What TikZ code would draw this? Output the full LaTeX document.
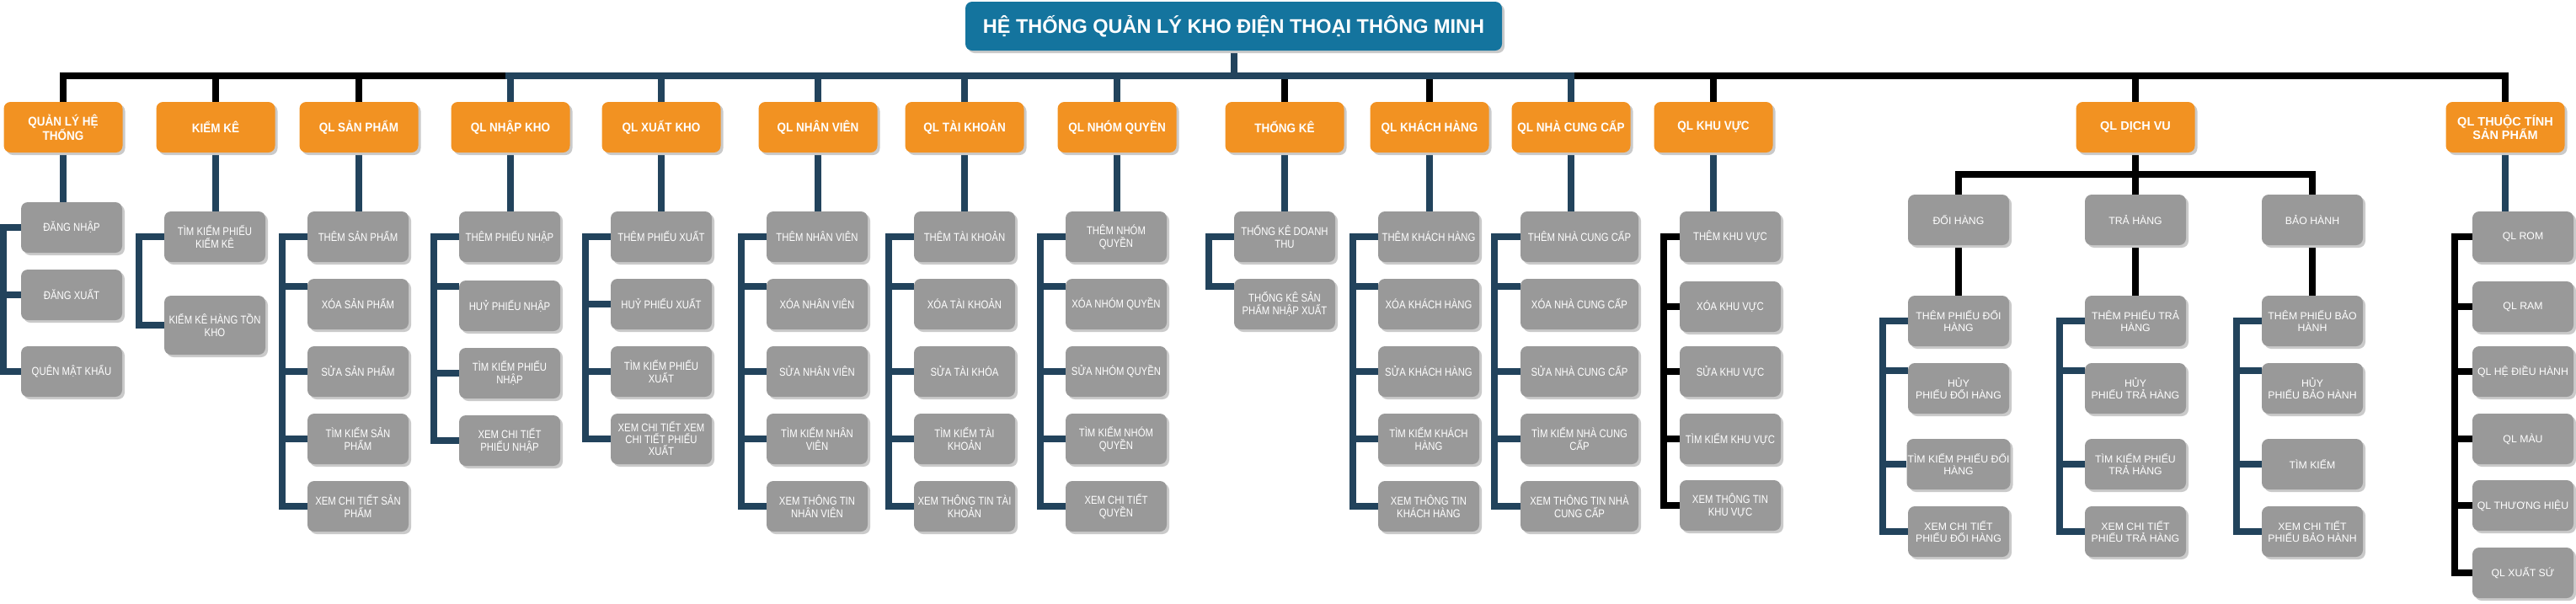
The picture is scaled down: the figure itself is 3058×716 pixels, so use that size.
\documentclass[tikz,border=0pt]{standalone}
\usepackage{fontspec}
\setmainfont{Liberation Sans}
\newfontfamily\narrowf[FakeStretch=0.84]{Liberation Sans}
\newfontfamily\narrowb[FakeStretch=0.9]{Liberation Sans}
\usetikzlibrary{shadows,calc}
\definecolor{orangec}{HTML}{F29222}
\definecolor{navyc}{HTML}{22435C}
\definecolor{grayc}{HTML}{999999}
\definecolor{rootc}{HTML}{14749E}
\definecolor{shadc}{HTML}{CACACA}
\pgfdeclarelayer{bg}
\pgfsetlayers{bg,main}
\tikzset{
  boxshadow/.style={general shadow={fill=shadc, shadow xshift=3pt, shadow yshift=-3pt}},
  rootbox/.style={fill=rootc, rounded corners=8pt, minimum width=637pt, minimum height=58pt,
    text=white, inner sep=0pt, font=\bfseries\fontsize{23.5}{26}\selectfont, boxshadow},
  cat/.style={fill=orangec, rounded corners=8pt, minimum width=141pt, minimum height=60pt,
    text=white, align=center, inner sep=1pt, font=\narrowb\bfseries\fontsize{15}{17}\selectfont, boxshadow},
  catw/.style={cat, font=\bfseries\fontsize{14.5}{16}\selectfont},
  leaf/.style={fill=grayc, rounded corners=8pt, minimum width=120pt, minimum height=60pt,
    text=white, align=center, inner sep=1pt, font=\narrowf\fontsize{13.5}{15}\selectfont, boxshadow},
  leafw/.style={leaf, font=\fontsize{12.3}{14}\selectfont},
  nline/.style={draw=navyc, line width=8pt},
  bline/.style={draw=black, line width=8pt},
}
\begin{document}
\begin{tikzpicture}[x=1pt,y=-1pt]
\useasboundingbox (0,0) rectangle (3058,716);

% root
\node[rootbox] (root) at (1464.5,31) {HỆ THỐNG QUẢN LÝ KHO ĐIỆN THOẠI THÔNG MINH};

% categories
\node[cat] (k1) at (75,151) {QUẢN LÝ HỆ\\THỐNG};
\node[cat] (k2) at (256,151) {KIỂM KÊ};
\node[cat] (k3) at (426,151) {QL SẢN PHẨM};
\node[cat] (k4) at (606,151) {QL NHẬP KHO};
\node[cat] (k5) at (785,151) {QL XUẤT KHO};
\node[cat] (k6) at (971,151) {QL NHÂN VIÊN};
\node[cat] (k7) at (1145,151) {QL TÀI KHOẢN};
\node[cat] (k8) at (1326,151) {QL NHÓM QUYỀN};
\node[cat] (k9) at (1525,151) {THỐNG KÊ};
\node[cat] (k10) at (1697,151) {QL KHÁCH HÀNG};
\node[cat] (k11) at (1865,151) {QL NHÀ CUNG CẤP};
\node[cat] (k12) at (2034,151) {QL KHU VỰC};
\node[catw] (k13) at (2535,151) {QL DỊCH VU};
\node[catw] (k14) at (2974,151) {QL THUỘC TÍNH\\SẢN PHẨM};

% column 1
\node[leaf] (a1) at (85,270) {ĐĂNG NHẬP};
\node[leaf] (a2) at (85,350) {ĐĂNG XUẤT};
\node[leaf] (a3) at (85,441) {QUÊN MẬT KHẨU};
% column 2
\node[leaf] (b1) at (255,281) {TÌM KIẾM PHIẾU\\KIỂM KÊ};
\node[leaf, minimum height=70pt] (b2) at (255,386) {KIỂM KÊ HÀNG TỒN\\KHO};
% column 3
\node[leaf] (c1) at (425,281) {THÊM SẢN PHẨM};
\node[leaf] (c2) at (425,361) {XÓA SẢN PHẨM};
\node[leaf] (c3) at (425,441) {SỬA SẢN PHẨM};
\node[leaf] (c4) at (425,521) {TÌM KIẾM SẢN\\PHẨM};
\node[leaf] (c5) at (425,601) {XEM CHI TIẾT SẢN\\PHẨM};
% column 4
\node[leaf] (d1) at (605,281) {THÊM PHIẾU NHẬP};
\node[leaf] (d2) at (605,363) {HUỶ PHIẾU NHẬP};
\node[leaf] (d3) at (605,443) {TÌM KIẾM PHIẾU\\NHẬP};
\node[leaf] (d4) at (605,523) {XEM CHI TIẾT\\PHIẾU NHẬP};
% column 5
\node[leaf] (e1) at (785,281) {THÊM PHIẾU XUẤT};
\node[leaf] (e2) at (785,361) {HUỶ PHIẾU XUẤT};
\node[leaf] (e3) at (785,441) {TÌM KIẾM PHIẾU\\XUẤT};
\node[leaf, font=\narrowf\fontsize{13.5}{14}\selectfont] (e4) at (785,521) {XEM CHI TIẾT XEM\\CHI TIẾT PHIẾU\\XUẤT};
% column 6
\node[leaf] (f1) at (970,281) {THÊM NHÂN VIÊN};
\node[leaf] (f2) at (970,361) {XÓA NHÂN VIÊN};
\node[leaf] (f3) at (970,441) {SỬA NHÂN VIÊN};
\node[leaf] (f4) at (970,521) {TÌM KIẾM NHÂN\\VIÊN};
\node[leaf] (f5) at (970,601) {XEM THÔNG TIN\\NHÂN VIÊN};
% column 7
\node[leaf] (g1) at (1145,281) {THÊM TÀI KHOẢN};
\node[leaf] (g2) at (1145,361) {XÓA TÀI KHOẢN};
\node[leaf] (g3) at (1145,441) {SỬA TÀI KHÓA};
\node[leaf] (g4) at (1145,521) {TÌM KIẾM TÀI\\KHOẢN};
\node[leaf] (g5) at (1145,601) {XEM THÔNG TIN TÀI\\KHOẢN};
% column 8
\node[leaf] (h1) at (1325,281) {THÊM NHÓM\\QUYỀN};
\node[leaf] (h2) at (1325,361) {XÓA NHÓM QUYỀN};
\node[leaf] (h3) at (1325,441) {SỬA NHÓM QUYỀN};
\node[leaf] (h4) at (1325,521) {TÌM KIẾM NHÓM\\QUYỀN};
\node[leaf] (h5) at (1325,601) {XEM CHI TIẾT\\QUYỀN};
% column 9
\node[leaf] (i1) at (1525,281) {THỐNG KÊ DOANH\\THU};
\node[leaf] (i2) at (1525,361) {THỐNG KÊ SẢN\\PHẨM NHẬP XUẤT};
% column 10
\node[leaf] (j1) at (1696,281) {THÊM KHÁCH HÀNG};
\node[leaf] (j2) at (1696,361) {XÓA KHÁCH HÀNG};
\node[leaf] (j3) at (1696,441) {SỬA KHÁCH HÀNG};
\node[leaf] (j4) at (1696,521) {TÌM KIẾM KHÁCH\\HÀNG};
\node[leaf] (j5) at (1696,601) {XEM THÔNG TIN\\KHÁCH HÀNG};
% column 11
\node[leaf, minimum width=140pt] (m1) at (1875,281) {THÊM NHÀ CUNG CẤP};
\node[leaf, minimum width=140pt] (m2) at (1875,361) {XÓA NHÀ CUNG CẤP};
\node[leaf, minimum width=140pt] (m3) at (1875,441) {SỬA NHÀ CUNG CẤP};
\node[leaf, minimum width=140pt] (m4) at (1875,521) {TÌM KIẾM NHÀ CUNG\\CẤP};
\node[leaf, minimum width=140pt] (m5) at (1875,601) {XEM THÔNG TIN NHÀ\\CUNG CẤP};
% column 12
\node[leaf] (n1) at (2054,281) {THÊM KHU VỰC};
\node[leaf] (n2) at (2054,364) {XÓA KHU VỰC};
\node[leaf] (n3) at (2054,441) {SỬA KHU VỰC};
\node[leaf] (n4) at (2054,521) {TÌM KIẾM KHU VỰC};
\node[leaf] (n5) at (2054,600) {XEM THÔNG TIN\\KHU VỰC};
% column 13
\node[leafw] (p1) at (2325,261) {ĐỔI HÀNG};
\node[leafw] (p2) at (2535,261) {TRẢ HÀNG};
\node[leafw] (p3) at (2745,261) {BẢO HÀNH};
\node[leafw] (q1) at (2325,381) {THÊM PHIẾU ĐỔI\\HÀNG};
\node[leafw] (q2) at (2325,461) {HỦY\\PHIẾU ĐỔI HÀNG};
\node[leafw] (q3) at (2325,551) {TÌM KIẾM PHIẾU ĐỔI\\HÀNG};
\node[leafw] (q4) at (2325,631) {XEM CHI TIẾT\\PHIẾU ĐỔI HÀNG};
\node[leafw] (r1) at (2535,381) {THÊM PHIẾU TRẢ\\HÀNG};
\node[leafw] (r2) at (2535,461) {HỦY\\PHIẾU TRẢ HÀNG};
\node[leafw] (r3) at (2535,551) {TÌM KIẾM PHIẾU\\TRẢ HÀNG};
\node[leafw] (r4) at (2535,631) {XEM CHI TIẾT\\PHIẾU TRẢ HÀNG};
\node[leafw] (s1) at (2745,381) {THÊM PHIẾU BẢO\\HÀNH};
\node[leafw] (s2) at (2745,461) {HỦY\\PHIẾU BẢO HÀNH};
\node[leafw] (s3) at (2745,551) {TÌM KIẾM};
\node[leafw] (s4) at (2745,631) {XEM CHI TIẾT\\PHIẾU BẢO HÀNH};
% column 14
\node[leafw] (t1) at (2995,281) {QL ROM};
\node[leafw] (t2) at (2995,364) {QL RAM};
\node[leafw] (t3) at (2995,441) {QL HỆ ĐIỀU HÀNH};
\node[leafw] (t4) at (2995,521) {QL MÀU};
\node[leafw] (t5) at (2995,600) {QL THƯƠNG HIỆU};
\node[leafw] (t6) at (2995,680) {QL XUẤT SỨ};

\coordinate (bus) at (1465,90);
\coordinate (busA) at (600,90);
\coordinate (busB) at (1869,90);
\coordinate (dv) at (2535,207);

\begin{pgfonlayer}{bg}
% drops from bus
\foreach \k in {k2,k3,k9,k10,k12,k13}{\draw[bline] (\k.north) -- (\k.north |- bus);}
\foreach \k in {k4,k5,k6,k7,k8,k11}{\draw[nline] (\k.north) -- (\k.north |- bus);}
\draw[nline] (root.south) -- (root.south |- bus);
% bus
\draw[bline] (k1.north) -- (k1.north |- bus) -- (busA);
\draw[nline] (busA) -- (busB);
\draw[bline] (busB) -- (k14.north |- bus) -- (k14.north);
% stems
\draw[nline] (k1.south) -- (k1.south |- a1.north);
\draw[nline] (k2.south) -- (k2.south |- b1.north);
\draw[nline] (k3.south) -- (k3.south |- c1.north);
\draw[nline] (k4.south) -- (k4.south |- d1.north);
\draw[nline] (k5.south) -- (k5.south |- e1.north);
\draw[nline] (k6.south) -- (k6.south |- f1.north);
\draw[nline] (k7.south) -- (k7.south |- g1.north);
\draw[nline] (k8.south) -- (k8.south |- h1.north);
\draw[nline] (k9.south) -- (k9.south |- i1.north);
\draw[nline] (k10.south) -- (k10.south |- j1.north);
\draw[nline] (k11.south) -- (k11.south |- m1.north);
\draw[nline] (k12.south) -- (k12.south |- n1.north);
\draw[nline] (k14.south) -- (k14.south |- t1.north);
\draw[bline] (k13.south) -- (p2.north);
\draw[bline] (p1.north) -- (p1.north |- dv) -- (p3.north |- dv) -- (p3.north);
\draw[bline] (p1.south) -- (q1.north);
\draw[bline] (p2.south) -- (r1.north);
\draw[bline] (p3.south) -- (s1.north);
% brackets
\draw[nline] (a1.west) -- ++(-21,0) |- (a3.west);
\draw[nline] (a2.west) -- ++(-21,0);
\draw[nline] (b1.west) -- ++(-30,0) |- (b2.west);
\draw[nline] (c1.west) -- ++(-30,0) |- (c5.west);
\draw[nline] ([yshift=-9pt]c2.north west) -- ++(-30,0);
\draw[nline] (c3.west) -- ++(-30,0);
\draw[nline] (c4.west) -- ++(-30,0);
\draw[nline] (d1.west) -- ++(-30,0) |- (d4.west);
\draw[nline] ([yshift=-7pt]d2.north west) -- ++(-30,0);
\draw[nline] (d3.west) -- ++(-30,0);
\draw[nline] (e1.west) -- ++(-30,0) |- (e4.west);
\draw[nline] (e2.west) -- ++(-30,0);
\draw[nline] (e3.west) -- ++(-30,0);
\foreach \c in {f,g,h,j}{
  \draw[nline] (\c1.west) -- ++(-30,0) |- (\c5.west);
  \draw[nline] ([yshift=-9pt]\c2.north west) -- ++(-30,0);
  \draw[nline] (\c3.west) -- ++(-30,0);
  \draw[nline] (\c4.west) -- ++(-30,0);
}
\draw[nline] (m1.west) -- ++(-31,0) |- (m5.west);
\draw[nline] ([yshift=-9pt]m2.north west) -- ++(-31,0);
\draw[nline] (m3.west) -- ++(-31,0);
\draw[nline] (m4.west) -- ++(-31,0);
\draw[nline] (i1.west) -- ++(-30,0) |- ([yshift=-9pt]i2.north west);
\draw[bline] (n1.west) -- ++(-19,0) |- (n5.west);
\draw[bline] (n2.west) -- ++(-19,0);
\draw[bline] (n3.west) -- ++(-19,0);
\draw[bline] (n4.west) -- ++(-19,0);
\foreach \c in {q,r,s}{
  \draw[nline] (\c1.west) -- ++(-30,0) |- (\c4.west);
  \draw[nline] ([yshift=-9pt]\c2.north west) -- ++(-30,0);
  \draw[nline] (\c3.west) -- ++(-30,0);
}
\draw[bline] (t1.west) -- ++(-21,0) |- (t6.west);
\foreach \t in {t2,t3,t4,t5}{\draw[bline] (\t.west) -- ++(-21,0);}
\end{pgfonlayer}
\end{tikzpicture}
\end{document}
